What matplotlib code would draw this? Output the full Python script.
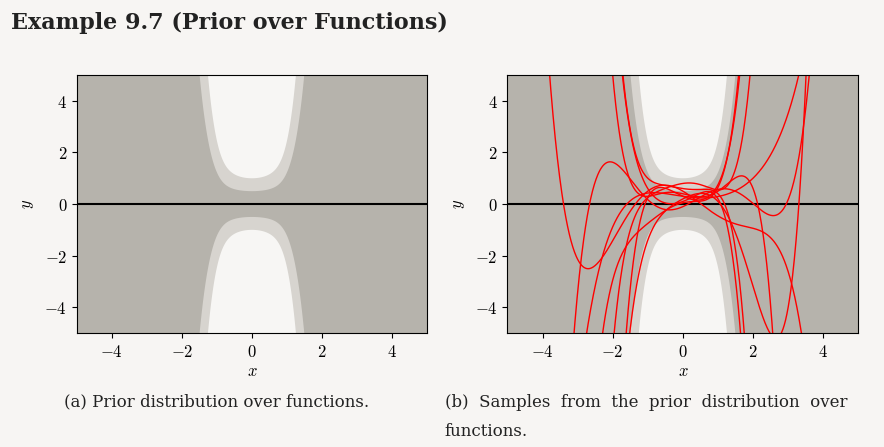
import numpy as np
import matplotlib.pyplot as plt

plt.rcParams["mathtext.fontset"] = "cm"

x_grid = np.linspace(-5, 5, 801)
degree = 5
prior_std = 0.5

# hand-picked polynomial weights w0..w5 for the sample functions
sample_weights = [
    [0.30, -0.60, 0.40, 0.50, -0.20, 0.35],
    [0.80, 0.20, -0.50, -0.30, 0.10, 0.25],
    [0.10, 0.50, 0.60, -0.40, -0.30, -0.30],
    [0.40, -0.30, -0.20, 0.60, 0.20, -0.20],
    [0.20, 0.70, -0.40, -0.10, -0.45, 0.15],
    [0.60, -0.20, 0.20, 0.30, -0.10, -0.40],
    [0.05, 0.30, -0.60, 0.20, 0.50, 0.20],
    [0.30, -0.20, 0.10, 0.12, -0.04, 0.012],
    [0.50, -0.80, -0.50, 0.35, 0.02, -0.03],
    [-0.10, 0.60, 0.55, -0.45, -0.08, 0.05],
]

bg = "#f7f5f3"
dark = "#b6b3ac"
light = "#d7d4cf"
white = "#f7f6f4"

Phi = np.vstack([x_grid ** k for k in range(degree + 1)]).T
sigma = prior_std * np.sqrt((Phi ** 2).sum(axis=1))

fig = plt.figure(figsize=(8.84, 4.47), dpi=100, facecolor=bg)
ax1 = fig.add_axes([0.087, 0.255, 0.396, 0.577])
ax2 = fig.add_axes([0.574, 0.255, 0.397, 0.577])

ticks = [-4, -2, 0, 2, 4]
tick_labels = [f"${v}$" if v >= 0 else f"$-{-v}$" for v in ticks]

for ax in (ax1, ax2):
    ax.set_facecolor(white)
    ax.fill_between(x_grid, -2 * sigma, 2 * sigma, color=light, lw=0)
    ax.fill_between(x_grid, -sigma, sigma, color=dark, lw=0)
    ax.axhline(0, color="black", lw=1.5)
    ax.set_xlim(-5, 5)
    ax.set_ylim(-5, 5)
    ax.set_xticks(ticks)
    ax.set_xticklabels(tick_labels, fontsize=12)
    ax.set_yticks(ticks)
    ax.set_yticklabels(tick_labels, fontsize=12)
    ax.set_xlabel("$x$", fontsize=12, labelpad=1)
    ax.set_ylabel("$y$", fontsize=12, labelpad=6)

for w in sample_weights:
    ax2.plot(x_grid, Phi @ np.array(w), color="red", lw=1)

fig.text(0.012, 0.935, "Example 9.7 (Prior over Functions)", fontsize=16,
         fontweight="bold", family="DejaVu Serif", color="#222222")
fig.text(0.072, 0.09, "(a) Prior distribution over functions.", fontsize=12,
         family="DejaVu Serif", color="#222222")
fig.text(0.503, 0.09, "(b)  Samples  from  the  prior  distribution  over", fontsize=12,
         family="DejaVu Serif", color="#222222")
fig.text(0.503, 0.025, "functions.", fontsize=12, family="DejaVu Serif", color="#222222")

fig.savefig("out.png", dpi=100, facecolor=bg)
